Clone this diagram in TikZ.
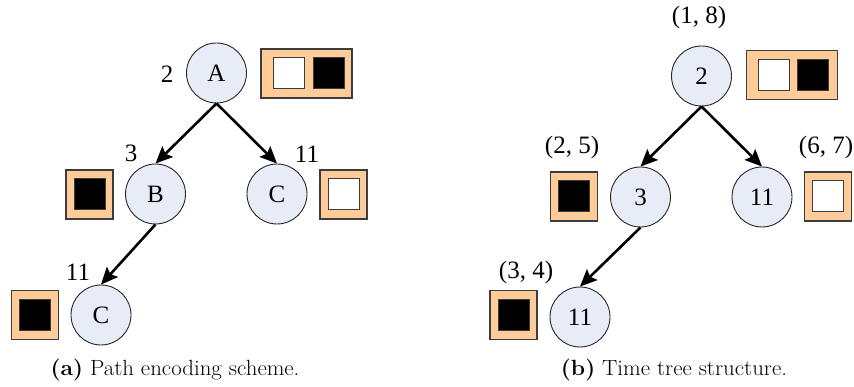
\documentclass[tikz,border=0pt]{standalone}
\usepackage{fontspec}
\setmainfont{Liberation Serif}
\newfontfamily\nodefont{Liberation Serif}
\newfontfamily\capfont[FakeStretch=1.04]{Latin Modern Roman}
\usetikzlibrary{arrows.meta}
\definecolor{vfill}{RGB}{231,236,247}
\definecolor{bfill}{RGB}{255,204,153}
\definecolor{bline}{RGB}{60,60,60}
\tikzset{
  vert/.style={circle, draw=black!85, line width=0.9pt, fill=vfill, minimum size=60pt, inner sep=0pt,
    font=\nodefont\fontsize{25}{25}\selectfont},
  lbl/.style={inner sep=0pt, font=\nodefont\fontsize{25}{25}\selectfont},
  outerbox/.style={draw=bline, line width=1.1pt, fill=bfill, inner sep=0pt, minimum height=49pt},
  cell/.style={draw=bline, line width=1pt, inner sep=0pt, minimum width=31pt, minimum height=31pt},
  whitecell/.style={cell, fill=white},
  blackcell/.style={cell, fill=black},
  link/.style={line width=2.6pt, -{Stealth[length=17pt, width=15pt, inset=3pt]}},
  captext/.style={inner sep=0pt, font=\capfont\fontsize{22}{22}\selectfont}
}
\begin{document}
\begin{tikzpicture}[x=1pt, y=-1pt]
\useasboundingbox (0,0) rectangle (854,387);

% ---- (a) path encoding scheme ----
\node[vert] (A) at (216.5,73) {A};
\node[vert] (B) at (155.5,194) {B};
\node[vert] (C1) at (277,194) {C};
\node[vert] (C2) at (101,315) {C};
\node[lbl] (lA) at (167,74) {2};
\node[lbl] (lB) at (131,153) {3};
\node[lbl] (lC1) at (307,154) {11};
\node[lbl] (lC2) at (78,272) {11};

\node[outerbox, minimum width=91pt] (bA) at (306.5,73.5) {};
\node[whitecell] (bA1) at (288.5,73.5) {};
\node[blackcell] (bA2) at (328.5,73.5) {};
\node[outerbox, minimum width=47pt] (bB) at (89.5,194.5) {};
\node[blackcell] (bB1) at (bB) {};
\node[outerbox, minimum width=47pt] (bC1) at (343.5,194.5) {};
\node[whitecell] (bC11) at (bC1) {};
\node[outerbox, minimum width=47pt] (bC2) at (35,315) {};
\node[blackcell] (bC21) at (bC2) {};

\draw[link] (A.south) -- (B.north);
\draw[link] (A.south) -- (C1.north);
\draw[link] (B.south) -- (C2.north);

\node[captext] (capa) at (175,370) {\textbf{(a)} Path encoding scheme.};

% ---- (b) time tree structure ----
\node[vert] (R) at (701.5,76) {2};
\node[vert] (T3) at (640.5,197) {3};
\node[vert] (T11) at (762,197) {11};
\node[vert] (T11b) at (580,317) {11};
\node[lbl] (lR) at (699,17) {(1, 8)};
\node[lbl] (lT3) at (572,147) {(2, 5)};
\node[lbl] (lT11) at (826,147) {(6, 7)};
\node[lbl] (lT11b) at (526,272) {(3, 4)};

\node[outerbox, minimum width=91pt] (bR) at (792,75) {};
\node[whitecell] (bR1) at (773.5,75) {};
\node[blackcell] (bR2) at (812.5,75) {};
\node[outerbox, minimum width=47pt] (bT3) at (574,196.5) {};
\node[blackcell] (bT31) at (bT3) {};
\node[outerbox, minimum width=47pt] (bT11) at (828,196.5) {};
\node[whitecell] (bT111) at (bT11) {};
\node[outerbox, minimum width=47pt] (bT11b) at (513.5,315) {};
\node[blackcell] (bT11b1) at (bT11b) {};

\draw[link] (R.south) -- (T3.north);
\draw[link] (R.south) -- (T11.north);
\draw[link] (T3.south) -- (T11b.north);

\node[captext] (capb) at (674,370) {\textbf{(b)} Time tree structure.};
\end{tikzpicture}
\end{document}
